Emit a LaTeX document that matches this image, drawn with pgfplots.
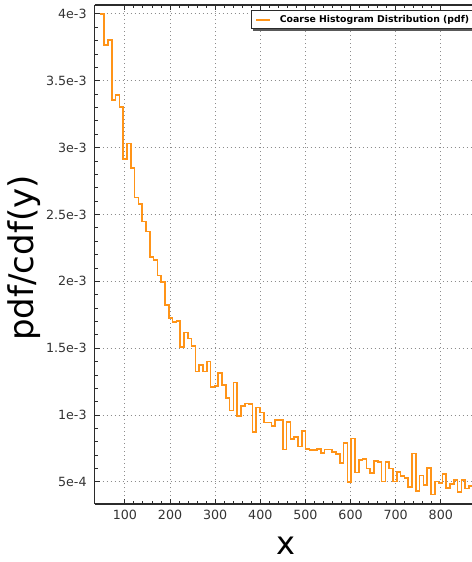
\documentclass[border=0pt]{standalone}
\usepackage{pgfplots}
\pgfplotsset{compat=1.18}
\usepackage{fontspec}
\setmainfont{DejaVu Sans}
\definecolor{historange}{HTML}{FF9418}
\definecolor{axisgray}{HTML}{2B2B2B}

\begin{document}
\begin{tikzpicture}
% the reference is cut off at the right: keep the same frame
\useasboundingbox (-71pt,-43.5pt) rectangle (283pt,378pt);
\clip (-71pt,-43.5pt) rectangle (283pt,378pt);
\begin{axis}[
  at={(0pt,0pt)}, anchor=south west,
  scale only axis, width=286.7pt, height=374.25pt,
  xmin=33, xmax=880,
  ymin=3.35e-4, ymax=4.067e-3,
  scaled y ticks=false, scaled x ticks=false,
  xtick={100,200,...,800},
  xticklabels={100,200,300,400,500,600,700,800},
  ytick={5e-4,1e-3,1.5e-3,2e-3,2.5e-3,3e-3,3.5e-3,4e-3},
  yticklabels={5e-4,1e-3,1.5e-3,2e-3,2.5e-3,3e-3,3.5e-3,4e-3},
  minor x tick num=4, minor y tick num=4,
  axis y line*=left,
  tick align=inside,
  major tick length=3.75pt, minor tick length=2.2pt,
  tick style={line width=0.7pt, color=axisgray},
  axis line style={line width=0.9pt, color=axisgray},
  grid=major,
  major grid style={line width=0.7pt, color=black!45, dash pattern=on 0.75pt off 2.25pt},
  tick label style={font=\fontsize{9.5}{10}\selectfont, color=black!80},
  yticklabel style={xshift=-2.5pt},
  xticklabel style={yshift=-1.3pt},
  xlabel={x}, ylabel={pdf/cdf(y)},
  every axis x label/.style={at={(axis description cs:0.5,0)}, anchor=center,
    yshift=-31.5pt, font=\fontsize{24}{24}\selectfont},
  every axis y label/.style={at={(axis description cs:0,0.493)}, xshift=-53pt,
    anchor=center, rotate=90, font=\fontsize{25.5}{26}\selectfont},
  legend style={name=histleg, at={(0.409,0.990)}, anchor=north west,
    font=\fontsize{7}{8}\selectfont\bfseries,
    draw=axisgray, line width=0.7pt, fill=white,
    inner xsep=3pt, inner ysep=1.5pt},
  legend image code/.code={%
    \draw[draw=historange, line width=1.3pt] (0pt,0pt) -- (10pt,0pt);
    \path (15pt,0pt);},
  legend cell align=left,
]
\addplot[const plot, draw=historange, line width=1.3pt] coordinates {
(45.7,4.000e-3) (54.1,3.770e-3) (62.5,3.803e-3) (71.0,3.359e-3) (79.4,3.396e-3)
(87.8,3.302e-3) (96.2,2.915e-3) (104.6,3.031e-3) (113.1,2.846e-3) (121.5,2.628e-3)
(129.9,2.580e-3) (138.3,2.447e-3) (146.7,2.374e-3) (155.2,2.185e-3) (163.6,2.160e-3)
(172.0,2.043e-3) (180.4,1.993e-3) (188.8,1.822e-3) (197.3,1.725e-3) (205.7,1.695e-3)
(214.1,1.704e-3) (222.5,1.507e-3) (230.9,1.618e-3) (239.4,1.573e-3) (247.8,1.515e-3)
(256.2,1.326e-3) (264.6,1.373e-3) (273.0,1.326e-3) (281.5,1.401e-3) (289.9,1.210e-3)
(298.3,1.216e-3) (306.7,1.317e-3) (315.1,1.225e-3) (323.6,1.126e-3) (332.0,1.034e-3)
(340.4,1.243e-3) (348.8,0.993e-3) (357.2,1.066e-3) (365.7,1.086e-3) (374.1,1.085e-3)
(382.5,0.874e-3) (390.9,1.056e-3) (399.3,1.019e-3) (407.8,0.944e-3) (416.2,0.944e-3)
(424.6,0.918e-3) (433.0,0.961e-3) (441.4,0.961e-3) (449.9,0.742e-3) (458.3,0.948e-3)
(466.7,0.819e-3) (475.1,0.836e-3) (483.5,0.766e-3) (492.0,0.879e-3) (500.4,0.749e-3)
(508.8,0.737e-3) (517.2,0.737e-3) (525.6,0.744e-3) (534.1,0.719e-3) (542.5,0.742e-3)
(550.9,0.742e-3) (559.3,0.724e-3) (567.7,0.707e-3) (576.2,0.644e-3) (584.6,0.791e-3)
(593.0,0.499e-3) (601.4,0.824e-3) (609.8,0.570e-3) (618.3,0.662e-3) (626.7,0.669e-3)
(635.1,0.600e-3) (643.5,0.567e-3) (651.9,0.656e-3) (660.4,0.650e-3) (668.8,0.504e-3)
(677.2,0.649e-3) (685.6,0.600e-3) (694.0,0.504e-3) (702.5,0.572e-3) (710.9,0.544e-3)
(719.3,0.529e-3) (727.7,0.462e-3) (736.1,0.712e-3) (744.6,0.432e-3) (753.0,0.549e-3)
(761.4,0.475e-3) (769.8,0.604e-3) (778.2,0.407e-3) (786.7,0.504e-3) (795.1,0.492e-3)
(803.5,0.557e-3) (811.9,0.457e-3) (820.3,0.482e-3) (828.8,0.512e-3) (837.2,0.424e-3)
(845.6,0.512e-3) (854.0,0.450e-3) (862.4,0.469e-3) (870.8,0.469e-3)
};
\addlegendentry{Coarse Histogram Distribution (pdf)}
\end{axis}
% shadow of the legend box, bottom and right strips
\fill[black!65] ([shift={(1.6pt,-1.6pt)}]histleg.south west) rectangle ([xshift=1.6pt]histleg.south east);
\fill[black!65] (histleg.south east) rectangle ([shift={(1.6pt,-1.6pt)}]histleg.north east);
\end{tikzpicture}
\end{document}
